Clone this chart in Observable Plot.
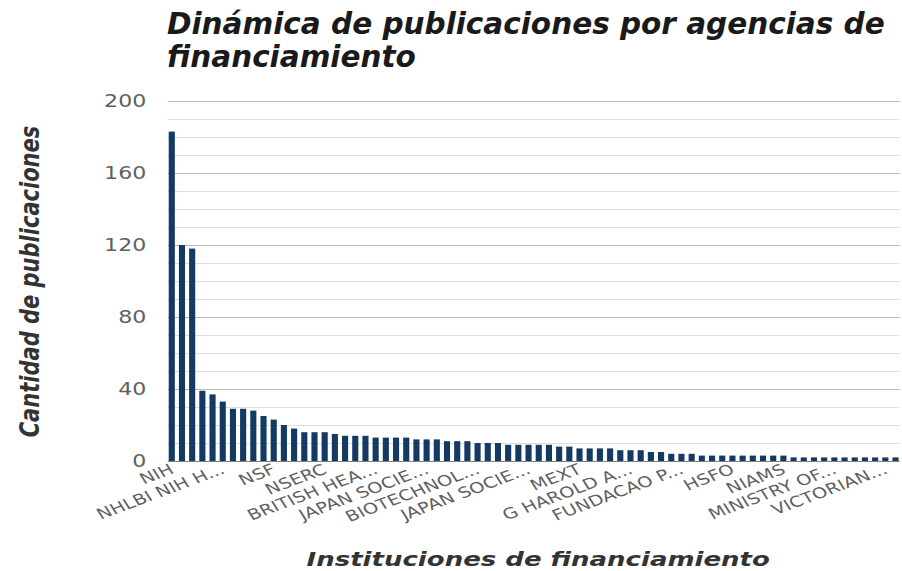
<!DOCTYPE html>
<html>
<head>
<meta charset="utf-8">
<script src="https://cdn.jsdelivr.net/npm/d3@7"></script>
<script src="https://cdn.jsdelivr.net/npm/@observablehq/plot@0.6"></script>
<style>
  html, body { margin: 0; padding: 0; background: #ffffff; }
  body { width: 902px; height: 571px; overflow: hidden; }
  #title {
    padding: 8px 0 0 167px;
    font-family: "DejaVu Sans", sans-serif;
    font-weight: bold; font-style: italic;
    font-size: 29.5px; line-height: 33px; color: #1a1a1a;
    white-space: nowrap;
  }
  #wrap { width: 694px; transform: scaleX(1.3); transform-origin: 0 0; }
</style>
</head>
<body>
<div id="title">Dinámica de publicaciones por agencias de<br>financiamiento</div>
<div id="wrap"></div>
<script>
// Publications per funding agency, sorted by rank (72 agencies)
const counts = [183,120,118,39,37,33,29,29,28,25,23,20,18,16,16,16,15,14,14,14,
  13,13,13,13,12,12,12,11,11,11,10,10,10,9,9,9,9,9,8,8,
  7,7,7,7,6,6,6,5,5,4,4,4,3,3,3,3,3,3,3,3,
  3,2,2,2,2,2,2,2,2,2,2,2];
// Ranks that carry a visible tick label, and their labels
const labelRanks = [0,5,10,15,20,25,30,35,40,45,50,55,60,65,70];
const labelNames = ["NIH","NHLBI NIH H...","NSF","NSERC","BRITISH HEA...","JAPAN SOCIE...",
  "BIOTECHNOL...","JAPAN SOCIE...","MEXT","G HAROLD A...","FUNDACAO P...","HSFO",
  "NIAMS","MINISTRY OF...","VICTORIAN..."];
const yTicks = [0,40,80,120,160,200];
const yMinorGrid = [10,20,30,50,60,70,90,100,110,130,140,150,170,180,190];
const yMajorGrid = [40,80,120,160,200];
const yTitle = "Cantidad de publicaciones";
const xTitle = "Instituciones de financiamiento";

const data = counts.map((c, i) => ({rank: i, count: c}));
const ranks = data.map(d => d.rank);

const chart = Plot.plot({
  width: 694, height: 497,
  marginLeft: 129, marginRight: 2, marginTop: 27, marginBottom: 110,
  style: {fontFamily: "DejaVu Sans, sans-serif", background: "#ffffff"},
  x: {type: "band", domain: ranks, paddingInner: 0.4, paddingOuter: 0.1, axis: null},
  y: {domain: [0, 200], axis: null},
  marks: [
    Plot.ruleY(yMinorGrid, {stroke: "#dedede", strokeWidth: 1}),
    Plot.ruleY(yMajorGrid, {stroke: "#bababa", strokeWidth: 1}),
    Plot.barY(data, {x: "rank", y: "count", fill: "#143a64"}),
    Plot.ruleY([0], {stroke: "#808080"}),
    Plot.axisY({ticks: yTicks, tickSize: 0, tickPadding: 17, fontSize: 17, fill: "#5f5f5f", label: null}),
    Plot.axisX({ticks: labelRanks, tickFormat: r => labelNames[labelRanks.indexOf(r)],
      tickRotate: -26, tickSize: 0, tickPadding: 7, fontSize: 15, fill: "#5f5f5f", label: null}),
    Plot.text([yTitle], {frameAnchor: "left", dx: -106, rotate: -90, textAnchor: "middle",
      lineAnchor: "middle", fontSize: 21, fontWeight: "bold", fontStyle: "italic", fill: "#333333"}),
    Plot.text([xTitle], {frameAnchor: "bottom", dy: 104, lineAnchor: "bottom", textAnchor: "middle",
      dx: 3, fontSize: 20, fontWeight: "bold", fontStyle: "italic", fill: "#333333"})
  ]
});
document.getElementById("wrap").appendChild(chart);
</script>
</body>
</html>
